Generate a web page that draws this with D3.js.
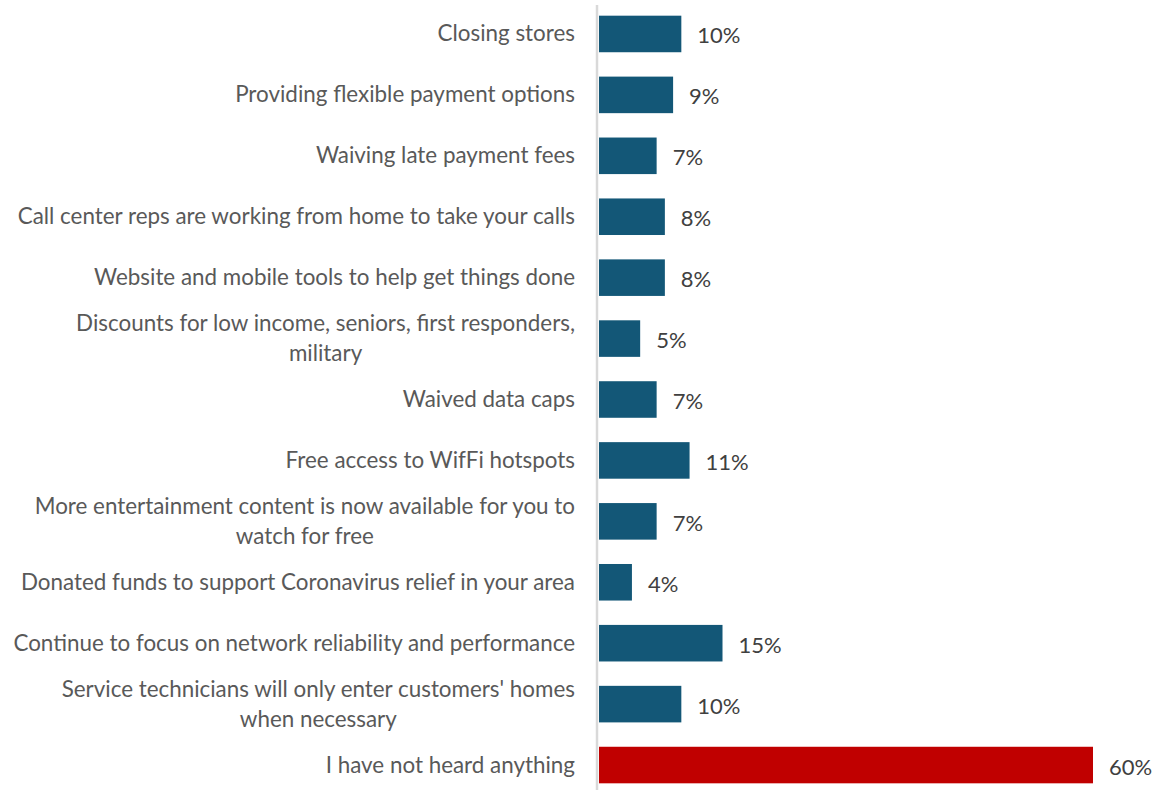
<!DOCTYPE html>
<html>
<head>
<meta charset="utf-8">
<script src="https://cdn.jsdelivr.net/npm/d3@7"></script>
<style>
  html, body { margin: 0; padding: 0; background: #fff; }
  svg { display: block; }
  text { font-family: Lato, "Open Sans", sans-serif; }
</style>
</head>
<body>
<svg id="chart" width="1166" height="790"></svg>
<script>
// Survey responses: what have you heard from your provider
const categories = [
  ["Closing stores"],
  ["Providing flexible payment options"],
  ["Waiving late payment fees"],
  ["Call center reps are working from home to take your calls"],
  ["Website and mobile tools to help get things done"],
  ["Discounts for low income, seniors, first responders,", "military"],
  ["Waived data caps"],
  ["Free access to WifFi hotspots"],
  ["More entertainment content is now available for you to", "watch for free"],
  ["Donated funds to support Coronavirus relief in your area"],
  ["Continue to focus on network reliability and performance"],
  ["Service technicians will only enter customers' homes", "when necessary"],
  ["I have not heard anything"]
];
const values = [10, 9, 7, 8, 8, 5, 7, 11, 7, 4, 15, 10, 60];
const highlight = [false, false, false, false, false, false, false, false, false, false, false, false, true];

const svg = d3.select("#chart");
const ids = categories.map((c, i) => i);

const y = d3.scaleBand()
  .domain(ids)
  .range([3.5, 795.5])
  .paddingInner(0.4)
  .paddingOuter(0.2);

const x = d3.scaleLinear()
  .domain([0, 60])
  .range([599, 1093]);

// bars
svg.append("g").selectAll("rect")
  .data(ids)
  .join("rect")
  .attr("x", x(0))
  .attr("y", i => y(i))
  .attr("width", i => x(values[i]) - x(0))
  .attr("height", y.bandwidth())
  .attr("fill", i => highlight[i] ? "#C00000" : "#135777");

// vertical category axis line
svg.append("line")
  .attr("x1", 597).attr("x2", 597)
  .attr("y1", 5).attr("y2", 790)
  .attr("stroke", "#D9D9D9")
  .attr("stroke-width", 2.5);

// value labels
svg.append("g").selectAll("text")
  .data(ids)
  .join("text")
  .attr("x", i => x(values[i]) + 16)
  .attr("y", i => y(i) + y.bandwidth() / 2 + 1)
  .attr("dominant-baseline", "central")
  .attr("font-size", 22)
  .attr("fill", "#404040")
  .text(i => values[i] + "%");

// category labels, wrapped lines centred within a right-aligned block
const labelRight = 575;
const lineGap = 30;
const lg = svg.append("g");
ids.forEach(i => {
  const lines = categories[i];
  const cy = y(i) + y.bandwidth() / 2 - 1.5;
  const t = lg.append("text")
    .attr("font-size", 22.4)
    .attr("fill", "#595959")
    .attr("dominant-baseline", "central");
  lines.forEach((ln, k) => {
    t.append("tspan")
      .attr("y", cy + (k - (lines.length - 1) / 2) * lineGap)
      .text(ln);
  });
  let maxW = 0;
  t.selectAll("tspan").each(function () {
    maxW = Math.max(maxW, this.getComputedTextLength());
  });
  t.attr("text-anchor", "middle");
  t.selectAll("tspan").attr("x", labelRight - maxW / 2);
});
</script>
</body>
</html>
